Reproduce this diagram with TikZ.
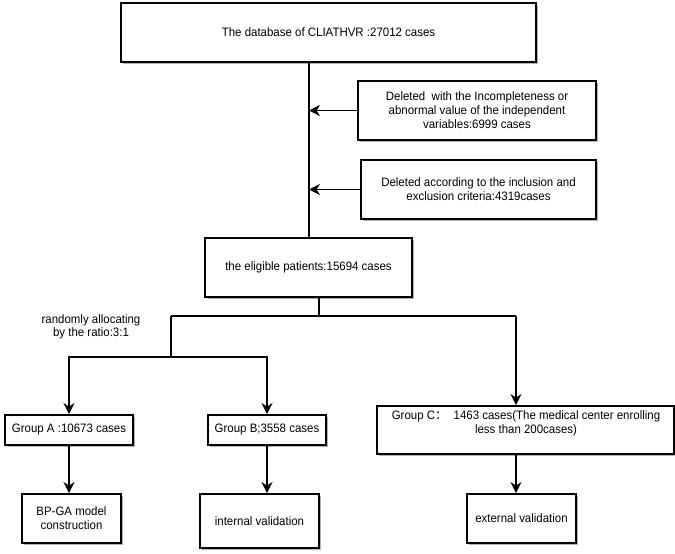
\documentclass[tikz,border=0pt]{standalone}
\usepackage{fontspec}
\setmainfont[FakeStretch=0.94]{Liberation Sans}
\newfontfamily\cjk{Noto Sans CJK SC}
\usetikzlibrary{arrows.meta,shadows}

\tikzset{
  box/.style={draw, line width=1.9pt, fill=white, align=center, inner sep=2pt,
    drop shadow={fill=black!30, opacity=1, shadow xshift=1.8pt, shadow yshift=-1.8pt}},
  link/.style={line width=1.5pt},
  arr/.style={link, -{Stealth[length=11pt,width=11pt,inset=3.5pt]}}
}

\begin{document}
\begin{tikzpicture}[x=1pt, y=-1pt, font=\fontsize{12.2}{14}\selectfont]
    \useasboundingbox (0,0) rectangle (675,554);

    % Top of the flow
    \node[box, minimum width=415pt, minimum height=59pt] (db) at (328.5,32.5)
        {The database of CLIATHVR :27012 cases};
    \node[box, minimum width=238pt, minimum height=59pt] (del1) at (477,110.5)
        {Deleted\ \ with the Incompleteness or\\abnormal value of the independent\\variables:6999 cases};
    \node[box, minimum width=235pt, minimum height=59pt] (del2) at (478.5,189.5)
        {Deleted according to the inclusion and\\exclusion criteria:4319cases};
    \node[box, minimum width=207pt, minimum height=59pt] (elig) at (308.5,267.5)
        {the eligible patients:15694 cases};

    % Trunk with the exclusions
    \coordinate (trunk) at (309,0);
    \draw[link] (db.south -| trunk) -- (elig.north -| trunk);
    \draw[arr] (del1.west) -- (del1.west -| trunk);
    \draw[arr] (del2.west) -- (del2.west -| trunk);

    % Groups
    \node[box, minimum width=128pt, minimum height=30pt] (gA) at (69,430) {Group A :10673 cases};
    \node[box, minimum width=118pt, minimum height=30pt] (gB) at (267,430) {Group B;3558 cases};
    \node[box, minimum width=297pt, minimum height=48pt] (gC) at (525.5,430) {};
    \node[align=center, anchor=north, inner sep=0pt] (gCtext) at (526,410)
        {Group C{\cjk ：}\ \ 1463 cases(The medical center enrolling\\less than 200cases)};

    % Outcomes
    \node[box, minimum width=99pt, minimum height=49pt] (bpga) at (71.5,518.5) {BP-GA model\\construction};
    \node[box, minimum width=119pt, minimum height=54pt] (intval) at (259.5,521) {internal validation};
    \node[box, minimum width=109pt, minimum height=49pt] (extval) at (521.5,518.5) {external validation};

    % Split of the eligible patients
    \coordinate (split) at (319,316);
    \coordinate (bl) at (171,316);
    \coordinate (br) at (516,316);
    \coordinate (ab) at (171,357);
    \draw[link] (elig.south -| split) -- (split);
    \draw[link] (bl) -- (br);
    \draw[link] (bl) -- (ab);
    \draw[arr] (ab) -| (gA.north);
    \draw[arr] (ab) -| (gB.north);
    \draw[arr] (br) -- (gC.north -| br);
    \node[align=center, font=\fontsize{12.2}{13.5}\selectfont] (ratio) at (91,327)
        {randomly allocating\\by the ratio:3:1};

    % To the outcomes
    \draw[arr] (gA.south) -- (gA.south |- bpga.north);
    \draw[arr] (gB.south) -- (gB.south |- intval.north);
    \draw[arr] (gC.south -| br) -- (br |- extval.north);
\end{tikzpicture}
\end{document}
